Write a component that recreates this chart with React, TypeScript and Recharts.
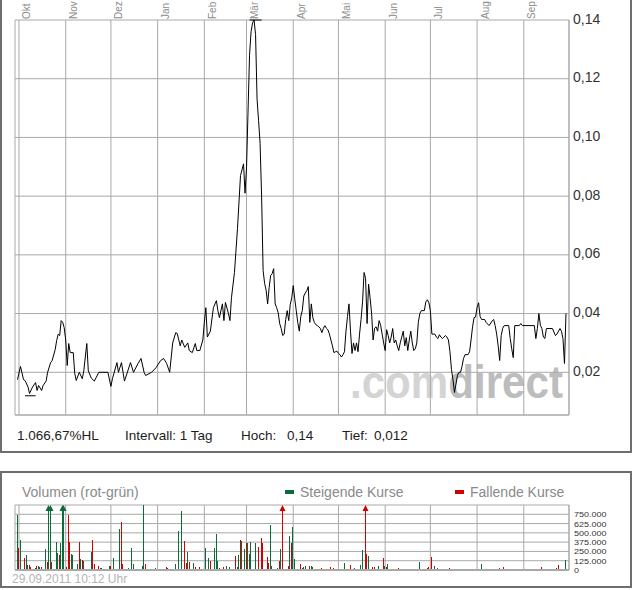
import React from "react";
import { ComposedChart, Line, Bar, XAxis, YAxis, CartesianGrid, ReferenceLine } from "recharts";

// days counted from 1 Oct 2010
const monthTicks = [0, 31, 61, 92, 123, 151, 182, 212, 243, 273, 304, 335];
const monthLabels = ["Okt", "Nov", "Dez", "Jan", "Feb", "Mär", "Apr", "Mai", "Jun", "Jul", "Aug", "Sep"];
const priceTicks = [0.02, 0.04, 0.06, 0.08, 0.1, 0.12, 0.14];
const volumeTicks = [0, 125000, 250000, 375000, 500000, 625000, 750000];

const priceDays = [
  -1, 1, 3, 4, 6, 7, 9, 11, 12, 13, 15, 16, 18, 19, 21, 22, 24, 25, 26, 27, 28, 29, 30, 31, 32, 33, 34, 36, 37, 38,
  40, 42, 43, 45, 46, 48, 50, 53, 59, 61, 62, 65, 66, 68, 70, 74, 76, 79, 81, 83, 84, 88, 91, 94, 96, 98, 100, 102,
  104, 105, 107, 108, 110, 112, 113, 115, 117, 118, 120, 122, 123, 124, 125, 127, 129, 131, 132, 133, 135, 136, 137,
  139, 140, 141, 143, 145, 146, 147, 149, 150, 151, 152, 153, 154, 155, 156, 157, 158, 159, 160, 161, 162, 163, 164,
  165, 166, 167, 168, 169, 170, 171, 172, 173, 174, 175, 176, 177, 178, 179, 180, 181, 182, 183, 184, 185, 186, 187,
  188, 189, 190, 191, 192, 193, 194, 195, 196, 197, 198, 199, 200, 201, 202, 203, 204, 205, 206, 207, 208, 209, 210,
  211, 212, 213, 214, 215, 216, 217, 218, 219, 220, 221, 222, 223, 224, 225, 226, 227, 228, 229, 230, 231, 232, 233,
  234, 235, 236, 237, 238, 239, 240, 241, 242, 243, 244, 245, 246, 247, 248, 249, 250, 251, 252, 253, 254, 255, 256,
  257, 258, 259, 260, 261, 262, 263, 264, 265, 266, 267, 269, 270, 271, 272, 273, 274, 276, 277, 278, 279, 280, 281,
  282, 283, 284, 285, 286, 287, 288, 289, 290, 291, 292, 293, 294, 295, 296, 298, 299, 300, 301, 302, 303, 304, 305,
  306, 307, 309, 310, 312, 314, 315, 316, 317, 318, 319, 320, 321, 322, 325, 326, 327, 328, 329, 332, 333, 334, 342,
  343, 344, 345, 346, 347, 348, 349, 350, 354, 356, 357, 359, 360, 361, 362, 363,
];
const priceValues = [
  0.0175, 0.022, 0.0175, 0.0172, 0.015, 0.0128, 0.015, 0.0165, 0.0138, 0.0155, 0.0138, 0.0155, 0.017, 0.02, 0.0233,
  0.024, 0.0277, 0.0308, 0.033, 0.0325, 0.0376, 0.037, 0.0352, 0.031, 0.0223, 0.0298, 0.0267, 0.0267, 0.0196, 0.0172,
  0.02, 0.0178, 0.0205, 0.0298, 0.0205, 0.018, 0.017, 0.02, 0.02, 0.0152, 0.0178, 0.0233, 0.02, 0.0233, 0.017, 0.0233,
  0.02, 0.023, 0.0247, 0.02, 0.0189, 0.02, 0.0216, 0.024, 0.0247, 0.023, 0.02, 0.03, 0.0335, 0.0332, 0.029, 0.031,
  0.0285, 0.03, 0.0274, 0.0267, 0.0298, 0.0274, 0.0274, 0.031, 0.037, 0.042, 0.032, 0.034, 0.042, 0.0444, 0.041,
  0.0386, 0.0433, 0.0376, 0.0438, 0.04, 0.0376, 0.0454, 0.054, 0.069, 0.078, 0.087, 0.091, 0.081, 0.0896, 0.109,
  0.128, 0.136, 0.139, 0.14, 0.135, 0.113, 0.1057, 0.098, 0.08, 0.0547, 0.0503, 0.048, 0.0433, 0.0488, 0.0529, 0.0536,
  0.0553, 0.0433, 0.042, 0.0403, 0.0366, 0.0349, 0.0325, 0.033, 0.038, 0.041, 0.0376, 0.043, 0.0454, 0.0495, 0.045,
  0.041, 0.037, 0.034, 0.039, 0.041, 0.046, 0.047, 0.0478, 0.0492, 0.037, 0.0433, 0.0386, 0.037, 0.0362, 0.0359,
  0.0355, 0.0349, 0.0335, 0.035, 0.0359, 0.035, 0.0345, 0.033, 0.031, 0.029, 0.0267, 0.027, 0.0272, 0.0264, 0.026,
  0.0252, 0.026, 0.027, 0.034, 0.039, 0.0433, 0.034, 0.0264, 0.03, 0.0274, 0.03, 0.027, 0.033, 0.038, 0.044, 0.054,
  0.052, 0.0366, 0.05, 0.0454, 0.04, 0.031, 0.035, 0.0355, 0.034, 0.0376, 0.036, 0.033, 0.03, 0.0274, 0.0345, 0.0325,
  0.03, 0.032, 0.0349, 0.03, 0.031, 0.029, 0.0274, 0.03, 0.032, 0.034, 0.029, 0.0318, 0.0274, 0.031, 0.034, 0.03,
  0.0274, 0.028, 0.03, 0.037, 0.04, 0.041, 0.041, 0.044, 0.0447, 0.0437, 0.041, 0.033, 0.033, 0.032, 0.0315, 0.0328,
  0.032, 0.0315, 0.032, 0.0325, 0.032, 0.031, 0.027, 0.021, 0.0175, 0.0131, 0.016, 0.019, 0.02, 0.02, 0.022, 0.0247,
  0.026, 0.026, 0.027, 0.031, 0.0355, 0.0386, 0.0388, 0.042, 0.0437, 0.039, 0.038, 0.038, 0.037, 0.0359, 0.0375,
  0.038, 0.0359, 0.033, 0.029, 0.024, 0.0325, 0.035, 0.0359, 0.0359, 0.0315, 0.028, 0.025, 0.0359, 0.0359, 0.0366,
  0.0359, 0.0359, 0.0315, 0.0349, 0.04, 0.036, 0.0349, 0.032, 0.0315, 0.0349, 0.0349, 0.0325, 0.033, 0.0349, 0.034,
  0.0315, 0.023, 0.04,
];

const volumeDays = [
  -1, 0, 1, 4, 5, 6, 7, 8, 11, 12, 13, 14, 15, 18, 19, 20, 21, 22, 25, 26, 27, 28, 29, 30, 32, 33, 34, 35, 36, 39, 40,
  41, 42, 43, 45, 46, 48, 49, 50, 53, 54, 55, 57, 60, 61, 62, 63, 67, 68, 69, 73, 75, 76, 77, 80, 82, 83, 84, 88, 89,
  91, 94, 95, 96, 98, 99, 102, 104, 106, 108, 110, 111, 112, 113, 116, 117, 118, 120, 124, 125, 126, 127, 130, 131,
  132, 133, 134, 136, 138, 139, 140, 144, 145, 146, 147, 148, 150, 151, 152, 153, 154, 155, 157, 159, 160, 161, 162,
  165, 166, 167, 168, 169, 172, 173, 174, 175, 176, 179, 180, 181, 182, 183, 185, 187, 188, 189, 190, 193, 194, 195,
  201, 203, 207, 209, 215, 216, 220, 222, 223, 227, 228, 230, 231, 232, 235, 236, 239, 242, 243, 244, 245, 246, 250,
  251, 252, 258, 260, 263, 266, 270, 271, 272, 274, 276, 278, 280, 285, 286, 287, 304, 307, 315, 319, 322, 332, 343,
  346, 347, 350, 355, 357, 358, 363,
];
const volumeValues = [
  740000, 290000, 400000, 160000, 200000, 70000, 65000, 40000, 30000, 55000, 55000, 40000, 40000, 280000, 110000,
  1200000, 1200000, 110000, 380000, 230000, 200000, 360000, 1200000, 1200000, 40000, 740000, 380000, 210000, 200000,
  80000, 380000, 145000, 135000, 125000, 20000, 20000, 240000, 410000, 75000, 60000, 30000, 30000, 15000, 60000, 50000,
  15000, 155000, 550000, 640000, 80000, 30000, 290000, 75000, 20000, 20000, 50000, 870000, 80000, 10000, 20000, 30000,
  10000, 10000, 10000, 40000, 25000, 20000, 80000, 525000, 795000, 390000, 95000, 245000, 110000, 95000, 40000, 15000,
  40000, 290000, 20000, 155000, 125000, 290000, 485000, 120000, 30000, 20000, 40000, 60000, 20000, 40000, 190000,
  40000, 200000, 410000, 390000, 280000, 365000, 370000, 210000, 380000, 20000, 370000, 315000, 20000, 425000, 370000,
  180000, 95000, 605000, 50000, 15000, 30000, 125000, 285000, 1200000, 20000, 60000, 460000, 370000, 585000, 150000,
  20000, 80000, 30000, 40000, 55000, 55000, 55000, 40000, 30000, 20000, 40000, 25000, 15000, 100000, 65000, 20000,
  30000, 65000, 270000, 1200000, 210000, 190000, 40000, 40000, 55000, 165000, 55000, 40000, 80000, 10000, 20000, 20000,
  30000, 20000, 20000, 20000, 110000, 20000, 25000, 40000, 180000, 60000, 25000, 10000, 20000, 30000, 10000, 10000,
  80000, 10000, 30000, 40000, 20000, 10000, 20000, 40000, 10000, 10000, 30000, 65000, 135000,
];
// 1 = Steigende Kurse (grün), 0 = Fallende Kurse (rot)
const volumeRising = [
  1, 0, 1, 0, 1, 1, 0, 0, 1, 0, 1, 1, 0, 1, 0, 1, 1, 0, 1, 1, 0, 1, 1, 1, 0, 0, 0, 1, 1, 1, 0,
  1, 0, 1, 0, 0, 1, 0, 0, 0, 1, 1, 0, 1, 0, 0, 1, 1, 0, 0, 1, 1, 1, 0, 1, 1, 1, 0, 1, 1,
  1, 1, 1, 1, 0, 1, 0, 1, 1, 1, 0, 0, 1, 0, 1, 0, 1, 0, 1, 1, 1, 0, 1, 1,
  1, 0, 1, 0, 1, 0, 1, 0, 1, 1, 0, 1, 1, 0, 1, 1, 1, 0, 1, 0, 1, 0, 0,
  0, 0, 1, 1, 1, 1, 0, 1, 0, 1, 0, 1, 0, 1, 1, 0, 0, 1, 1, 1, 0, 1, 1,
  0, 1, 0, 0, 1, 1, 0, 1, 1, 1, 1, 0, 0, 1, 0, 0, 1, 0, 1, 0, 1, 0, 0,
  0, 0, 1, 1, 0, 1, 1, 1, 0, 0, 1, 0, 1, 0, 0, 0, 1, 1, 0, 1, 0, 1, 0,
  1, 0, 1, 0, 1, 0, 1,
];

const priceData = priceDays.map((day, i) => ({ day, price: priceValues[i] }));
const volumeData = volumeDays.map((day, i) => ({ day, volume: volumeValues[i], rising: volumeRising[i] === 1 }));

const X_MIN = -2.65;
const X_MAX = 365;
const PRICE_MIN = 0.00545;
const PRICE_MAX = 0.14;
const VOLUME_MAX = 875000;
const VOL_TOP = 5;

const GRID = "#a9a9a9";
const GREEN = "#0b6b3a";
const RED = "#d20000";
const FONT = "'Liberation Sans', Arial, Helvetica, sans-serif";

const fmtPrice = (v: number) => v.toFixed(2).replace(".", ",");
const fmtVolume = (v: number) => String(v).replace(/\B(?=(\d{3})+(?!\d))/g, ".");

const MonthTick = (props: any) => {
  const { x, payload } = props;
  const label = monthLabels[monthTicks.indexOf(payload.value)];
  return (
    <text transform={`translate(${x + 11.5},19) rotate(-90)`} fontSize={10} fill="#8c8c8c" fontFamily={FONT}>
      {label}
    </text>
  );
};

const PriceTick = (props: any) => {
  const { x, y, payload } = props;
  return (
    <text x={x} y={y + 3.5} fontSize={14} fill="#333" fontFamily={FONT}>
      {fmtPrice(payload.value)}
    </text>
  );
};

// the volume labels are set in a narrow face; squeeze them to that width
const VolumeTick = (props: any) => {
  const { x, y, payload } = props;
  const label = fmtVolume(payload.value);
  const digits = label.replace(/\./g, "").length;
  const dots = label.length - digits;
  return (
    <text
      x={x}
      y={y + 3}
      fontSize={8}
      fill="#333"
      fontFamily={FONT}
      textLength={digits * 5 + dots * 2.5}
      lengthAdjust="spacingAndGlyphs"
    >
      {label}
    </text>
  );
};

const VolumeBar = (props: any) => {
  const { x, y, width, height, payload } = props;
  const color = payload.rising ? GREEN : RED;
  const px = Math.floor(x + width / 2);
  const bottom = y + height;
  const over = payload.volume > VOLUME_MAX;
  const top = over ? VOL_TOP + 5 : y;
  return (
    <g>
      <rect x={px} y={top} width={1} height={Math.max(bottom - top, 0)} fill={color} shapeRendering="crispEdges" />
      {over && (
        <polygon points={`${px + 0.5},${VOL_TOP} ${px - 2.5},${VOL_TOP + 6} ${px + 3.5},${VOL_TOP + 6}`} fill={color} />
      )}
    </g>
  );
};

const Background = () => (
  <svg width={632} height={590} style={{ position: "absolute", left: 0, top: 0 }}>
    <text x={350} y={398} fontSize={46} fontWeight="bold" fontFamily={FONT} textLength={213} lengthAdjust="spacingAndGlyphs">
      <tspan fill="#d4d4d4">.com</tspan>
      <tspan fill="#bdbdbd">direct</tspan>
    </text>
    <rect x={1} y={-10} width={630} height={462} fill="none" stroke="#6e6e6e" strokeWidth={2} />
    <rect x={1} y={472} width={630} height={115} fill="none" stroke="#6e6e6e" strokeWidth={2} />
    <g fontFamily={FONT} fontSize={13.5} fill="#1c1c1c">
      <text x={17} y={440}>1.066,67%HL</text>
      <text x={125} y={440}>Intervall: 1 Tag</text>
      <text x={241} y={440}>Hoch:</text>
      <text x={287} y={440}>0,14</text>
      <text x={342} y={440}>Tief:</text>
      <text x={374} y={440}>0,012</text>
    </g>
    <g fontFamily={FONT} fontSize={14} fill="#8a8a8a">
      <text x={22} y={497}>Volumen (rot-grün)</text>
      <rect x={285} y={490} width={9} height={4} fill={GREEN} />
      <text x={300} y={497}>Steigende Kurse</text>
      <rect x={455} y={490} width={9} height={4} fill={RED} />
      <text x={470} y={497}>Fallende Kurse</text>
    </g>
    <text x={12} y={583} fontFamily={FONT} fontSize={12} fill="#b4b4b4">29.09.2011 10:12 Uhr</text>
  </svg>
);

export default function App() {
  return (
    <div style={{ position: "absolute", left: 0, top: 0, width: 632, height: 590, background: "#fff", fontFamily: FONT }}>
      <Background />
      <div style={{ position: "absolute", left: 0, top: 0 }}>
        <ComposedChart width={632} height={420} data={priceData} margin={{ top: 0, right: 0, bottom: 5, left: 15 }}>
          <CartesianGrid stroke={GRID} />
          <XAxis
            dataKey="day"
            type="number"
            orientation="top"
            height={20}
            domain={[X_MIN, X_MAX]}
            allowDataOverflow
            ticks={monthTicks}
            interval={0}
            tick={<MonthTick />}
            tickLine={false}
            axisLine={false}
          />
          <YAxis
            orientation="right"
            width={63}
            type="number"
            domain={[PRICE_MIN, PRICE_MAX]}
            allowDataOverflow
            ticks={priceTicks}
            interval={0}
            tick={<PriceTick />}
            tickSize={0}
            tickMargin={4}
            tickLine={false}
            axisLine={false}
          />
          <ReferenceLine y={PRICE_MIN} stroke={GRID} />
          <ReferenceLine x={X_MAX} stroke={GRID} />
          <ReferenceLine segment={[{ x: 153, y: PRICE_MAX }, { x: 161, y: PRICE_MAX }]} stroke="#000" />
          <ReferenceLine segment={[{ x: 4, y: 0.012 }, { x: 11, y: 0.012 }]} stroke="#000" />
          <Line type="linear" dataKey="price" stroke="#000" strokeWidth={1} dot={false} isAnimationActive={false} />
        </ComposedChart>
      </div>
      <div style={{ position: "absolute", left: 0, top: 500 }}>
        <ComposedChart width={632} height={75} data={volumeData} margin={{ top: VOL_TOP, right: 0, bottom: 5, left: 15 }}>
          <CartesianGrid stroke={GRID} />
          <XAxis dataKey="day" type="number" domain={[X_MIN, X_MAX]} allowDataOverflow ticks={monthTicks} interval={0} hide />
          <YAxis
            orientation="right"
            width={63}
            type="number"
            domain={[0, VOLUME_MAX]}
            allowDataOverflow
            ticks={volumeTicks}
            interval={0}
            tick={<VolumeTick />}
            tickSize={0}
            tickMargin={5}
            tickLine={false}
            axisLine={false}
          />
          <ReferenceLine x={X_MAX} stroke={GRID} />
          <Bar dataKey="volume" barSize={1} shape={<VolumeBar />} isAnimationActive={false} />
          <ReferenceLine y={0} stroke={GRID} strokeWidth={2} />
        </ComposedChart>
      </div>
    </div>
  );
}
